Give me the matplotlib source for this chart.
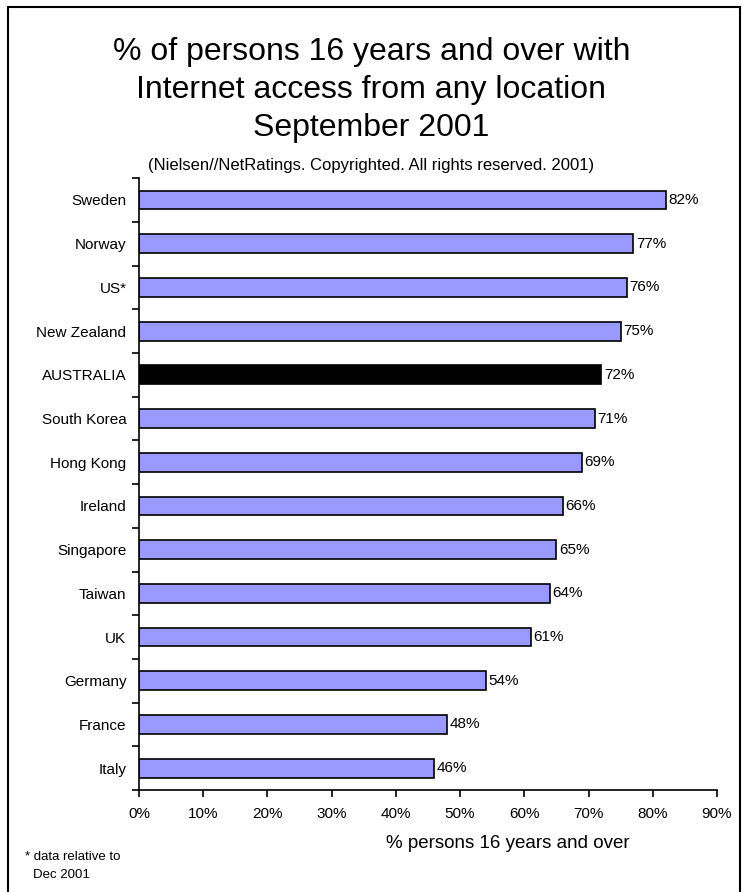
import matplotlib.pyplot as plt
from matplotlib.patches import Rectangle

plt.rcParams['font.family'] = ['Liberation Sans', 'DejaVu Sans']

# data
countries = ["Sweden", "Norway", "US*", "New Zealand", "AUSTRALIA", "South Korea",
             "Hong Kong", "Ireland", "Singapore", "Taiwan", "UK", "Germany",
             "France", "Italy"]
values = [82, 77, 76, 75, 72, 71, 69, 66, 65, 64, 61, 54, 48, 46]
highlight = "AUSTRALIA"

fig = plt.figure(figsize=(7.43, 8.92), dpi=100)
ax = fig.add_axes([0.187, 0.1143, 0.778, 0.686])

n = len(countries)
ypos = list(range(n))
colors = ["black" if c == highlight else "#9999ff" for c in countries]
ax.barh(ypos, values, height=0.43, color=colors, edgecolor="black", linewidth=1.2)

for y, v in zip(ypos, values):
    ax.text(v + 0.4, y, f"{v}%", va="center", ha="left", fontsize=11)

ax.set_ylim(n - 0.5, -0.5)
ax.set_xlim(0, 90)
ax.set_xticks(range(0, 91, 10))
ax.set_xticklabels([f"{t}%" for t in range(0, 91, 10)], fontsize=11)
ax.set_yticks(ypos)
ax.set_yticklabels(countries, fontsize=11)
ax.tick_params(axis="y", length=0, pad=9)
ax.set_yticks([i - 0.5 for i in range(n + 1)], minor=True)
ax.tick_params(axis="y", which="minor", length=5, width=1.2)
ax.tick_params(axis="x", length=5, width=1.2, pad=7)
for s in ["top", "right"]:
    ax.spines[s].set_visible(False)
for s in ["left", "bottom"]:
    ax.spines[s].set_linewidth(1.2)

fig.text(0.5, 0.9417, "% of persons 16 years and over with", ha="center", va="center", fontsize=23)
fig.text(0.5, 0.8990, "Internet access from any location", ha="center", va="center", fontsize=23)
fig.text(0.5, 0.8565, "September 2001", ha="center", va="center", fontsize=23)
fig.text(0.5, 0.8150, "(Nielsen//NetRatings. Copyrighted. All rights reserved. 2001)",
         ha="center", va="center", fontsize=12)

fig.text(0.683, 0.0545, "% persons 16 years and over", ha="center", va="center", fontsize=13.5)
fig.text(0.033, 0.039, "* data relative to", ha="left", va="center", fontsize=9.5)
fig.text(0.045, 0.019, "Dec 2001", ha="left", va="center", fontsize=9.5)

fig.patches.append(Rectangle((0.011, -0.05), 0.985, 1.042, transform=fig.transFigure,
                             fill=False, edgecolor="black", linewidth=1.5))

fig.savefig("out.png", dpi=100)
